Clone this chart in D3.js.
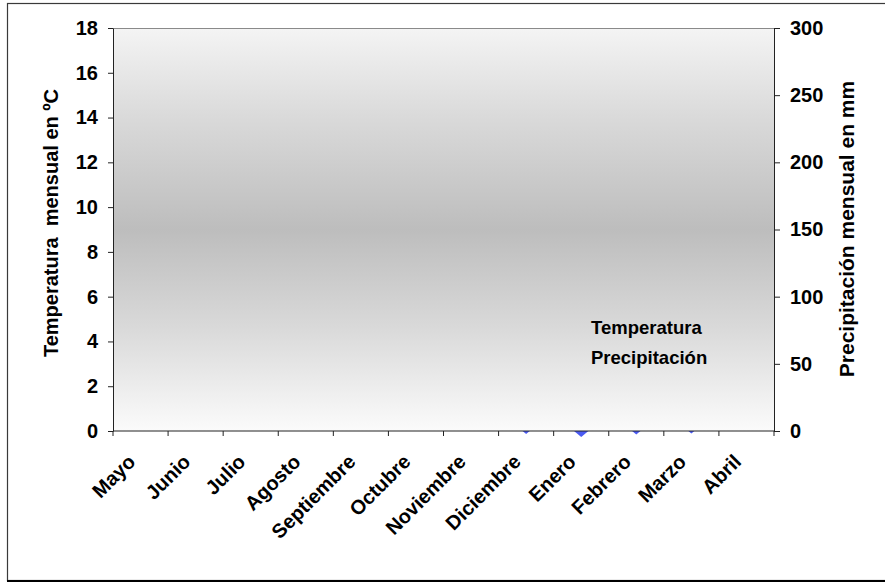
<!DOCTYPE html>
<html>
<head>
<meta charset="utf-8">
<script src="https://cdn.jsdelivr.net/npm/d3@7"></script>
<style>
  html, body { margin: 0; padding: 0; background: #fff; }
  svg { display: block; font-family: "Liberation Sans", Arial, sans-serif; font-weight: bold; }
</style>
</head>
<body>
<svg id="chart" width="885" height="583"></svg>
<script>
// Monthly climate chart: temperature (left axis) and precipitation (right axis)
const months = ["Mayo", "Junio", "Julio", "Agosto", "Septiembre", "Octubre",
                "Noviembre", "Diciembre", "Enero", "Febrero", "Marzo", "Abril"];
const seriesNames = ["Temperatura", "Precipitación"];
const temperature = [null, null, null, null, null, null, null, null, null, null, null, null];
const precipitation = [null, null, null, null, null, null, null, 3.4, 1.1, 3.0, 3.7, null];
const tempTicks = [0, 2, 4, 6, 8, 10, 12, 14, 16, 18];
const precipTicks = [0, 50, 100, 150, 200, 250, 300];

const svg = d3.select("#chart");
const plot = { left: 113, right: 774, top: 28, bottom: 431 };

const x = d3.scaleBand().domain(months).range([plot.left, plot.right]);
const yT = d3.scaleLinear().domain([0, 18]).range([plot.bottom, plot.top]);
const yP = d3.scaleLinear().domain([0, 300]).range([plot.bottom, plot.top]);

// chart frame
svg.append("rect")
  .attr("x", 7.5).attr("y", 3.5).attr("width", 900).attr("height", 577)
  .attr("fill", "#fff").attr("stroke", "#3a3a3a").attr("stroke-width", 1.2);
svg.append("line")
  .attr("x1", 7).attr("x2", 885).attr("y1", 581).attr("y2", 581)
  .attr("stroke", "#000").attr("stroke-width", 2);

// vertical grey band behind the plot area
const grad = svg.append("defs").append("linearGradient")
  .attr("id", "plotFill").attr("x1", 0).attr("x2", 0).attr("y1", 0).attr("y2", 1);
[[0, "#f4f4f4"], [0.22, "#dadada"], [0.5, "#bdbdbd"], [0.75, "#dadada"], [1, "#fbfbfb"]]
  .forEach(([o, c]) => grad.append("stop").attr("offset", o).attr("stop-color", c));

// diamond markers (drawn before the plot area fill)
const diamond = "M0,-7.5L9,0L0,7.5L-9,0Z";
const cx = m => x(m) + x.bandwidth() / 2;
svg.append("g").selectAll("path")
  .data(months.map((m, i) => ({ m, v: precipitation[i] })).filter(d => d.v != null))
  .join("path")
  .attr("d", diamond)
  .attr("transform", d => `translate(${cx(d.m)},${yP(d.v)})`)
  .attr("fill", "#4a5af2");
svg.append("g").selectAll("path")
  .data(months.map((m, i) => ({ m, v: temperature[i] })).filter(d => d.v != null))
  .join("path")
  .attr("d", diamond)
  .attr("transform", d => `translate(${cx(d.m)},${yT(d.v)})`)
  .attr("fill", "#000080");

// plot area
svg.append("rect")
  .attr("x", plot.left).attr("y", plot.top)
  .attr("width", plot.right - plot.left).attr("height", plot.bottom - plot.top)
  .attr("fill", "url(#plotFill)");
svg.append("line")
  .attr("x1", plot.left).attr("x2", plot.right).attr("y1", plot.top + 0.5).attr("y2", plot.top + 0.5)
  .attr("stroke", "#8a8a8a").attr("stroke-width", 1);

// left axis
const gL = svg.append("g").attr("transform", `translate(${plot.left},0)`)
  .call(d3.axisLeft(yT).tickValues(tempTicks).tickSize(5).tickPadding(10).tickSizeOuter(0));
// right axis
const gR = svg.append("g").attr("transform", `translate(${plot.right},0)`)
  .call(d3.axisRight(yP).tickValues(precipTicks).tickSize(6).tickPadding(10).tickSizeOuter(0));
[gL, gR].forEach(g => {
  g.selectAll(".domain").attr("stroke", "#222");
  g.selectAll(".tick line").attr("stroke", "#222");
  g.selectAll("text").attr("font-size", 20).attr("font-weight", "bold")
    .attr("font-family", "Liberation Sans, Arial, sans-serif").attr("fill", "#000");
});

// category axis
const gB = svg.append("g");
gB.append("line")
  .attr("x1", plot.left).attr("x2", plot.right).attr("y1", plot.bottom).attr("y2", plot.bottom)
  .attr("stroke", "#222");
const bounds = months.map(m => x(m)).concat([plot.right]);
gB.selectAll("line.tk").data(bounds).join("line").attr("class", "tk")
  .attr("x1", d => d).attr("x2", d => d)
  .attr("y1", plot.bottom).attr("y2", plot.bottom + 5)
  .attr("stroke", "#222");
gB.selectAll("text").data(months).join("text")
  .attr("transform", m => `translate(${cx(m) - 4},${plot.bottom + 32}) rotate(-45)`)
  .attr("text-anchor", "end")
  .attr("font-size", 20)
  .text(m => m);

// axis titles
svg.append("text")
  .attr("transform", `translate(58,${223}) rotate(-90)`)
  .attr("text-anchor", "middle").attr("font-size", 20)
  .attr("xml:space", "preserve").style("white-space", "pre")
  .text("Temperatura  mensual en ºC");
svg.append("text")
  .attr("transform", `translate(854,${229}) rotate(-90)`)
  .attr("text-anchor", "middle").attr("font-size", 21)
  .text("Precipitación mensual en mm");

// legend
const legend = svg.append("g").attr("transform", "translate(591,334)");
legend.selectAll("text").data(seriesNames).join("text")
  .attr("y", (d, i) => i * 30)
  .attr("font-size", 18.5)
  .text(d => d);
</script>
</body>
</html>
